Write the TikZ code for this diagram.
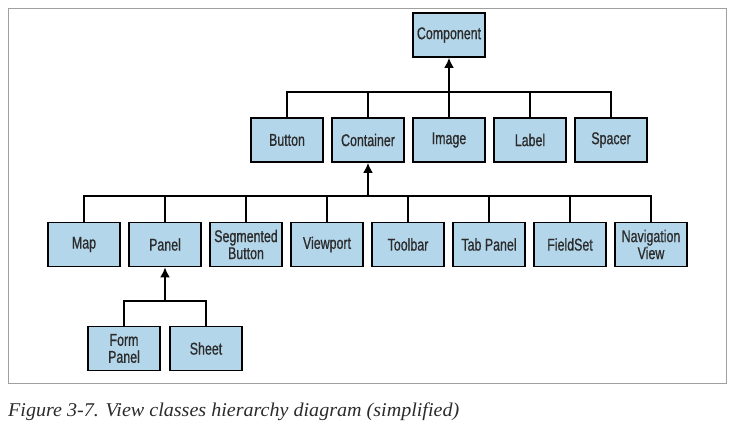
\documentclass[tikz,border=0pt]{standalone}
\usepackage{fontspec}
\usepackage{tikz}
\usetikzlibrary{arrows.meta}

\newfontfamily\boxfont[FakeStretch=0.73,FakeBold=0.8]{Liberation Sans}
\newfontfamily\capfont[FakeStretch=1.03]{Liberation Serif}

\definecolor{boxblue}{HTML}{B4D6EA}
\definecolor{boxtext}{HTML}{2B2B2B}
\definecolor{framegray}{HTML}{A0A0A0}

\tikzset{
    classbox/.style={draw=black, line width=1.8pt, fill=boxblue, text=boxtext,
        minimum width=72pt, minimum height=44pt, inner sep=0pt, align=center,
        font=\boxfont\fontsize{17}{17}\selectfont},
    wire/.style={line width=1.8pt},
    inherit/.style={wire, -{Latex[length=10pt,width=10pt]}}
}

\begin{document}
\begin{tikzpicture}[x=1pt,y=-1pt]
    \useasboundingbox (0,0) rectangle (736,427);
    \draw[framegray, line width=0.8pt] (8.5,8.5) rectangle (726.5,383.5);

    % Top class
    \node[classbox] (comp) at (449,35) {Component};

    % Second row
    \node[classbox] (button) at (287,140) {Button};
    \node[classbox] (container) at (368,140) {Container};
    \node[classbox] (image) at (449,140) {Image};
    \node[classbox] (label) at (530,140) {Label};
    \node[classbox] (spacer) at (611,140) {Spacer};

    % Third row
    \node[classbox] (map) at (84,244.5) {Map};
    \node[classbox] (panel) at (165,244.5) {Panel};
    \node[classbox] (segbutton) at (246,244.5) {Segmented\\Button};
    \node[classbox] (viewport) at (327,244.5) {Viewport};
    \node[classbox] (toolbar) at (408,244.5) {Toolbar};
    \node[classbox] (tabpanel) at (489,244.5) {Tab Panel};
    \node[classbox] (fieldset) at (570,244.5) {FieldSet};
    \node[classbox] (navview) at (651,244.5) {Navigation\\View};

    % Fourth row
    \node[classbox] (formpanel) at (124,348.5) {Form\\Panel};
    \node[classbox] (sheet) at (206,348.5) {Sheet};

    % Buses
    \coordinate (bus1) at (449,92);
    \coordinate (bus2) at (368,196);
    \coordinate (bus3) at (165,301);

    % Component children
    \draw[wire] (button.north) |- (bus1) -| (spacer.north);
    \draw[wire] (container.north) -- (container.north |- bus1);
    \draw[wire] (label.north) -- (label.north |- bus1);
    \draw[inherit] (image.north) -- (comp.south);

    % Container children
    \draw[wire] (map.north) |- (bus2) -| (navview.north);
    \draw[wire] (panel.north) -- (panel.north |- bus2);
    \draw[wire] (segbutton.north) -- (segbutton.north |- bus2);
    \draw[wire] (viewport.north) -- (viewport.north |- bus2);
    \draw[wire] (toolbar.north) -- (toolbar.north |- bus2);
    \draw[wire] (tabpanel.north) -- (tabpanel.north |- bus2);
    \draw[wire] (fieldset.north) -- (fieldset.north |- bus2);
    \draw[inherit] (bus2) -- (container.south);

    % Panel children
    \draw[wire] (formpanel.north) |- (bus3) -| (sheet.north);
    \draw[inherit] (bus3) -- (panel.south);

    % Caption
    \node[anchor=base west, inner sep=0pt, font=\capfont\itshape\fontsize{19.5}{23}\selectfont, text=boxtext]
        (caption) at (8,416) {Figure 3-7. View classes hierarchy diagram (simplified)};
\end{tikzpicture}
\end{document}
